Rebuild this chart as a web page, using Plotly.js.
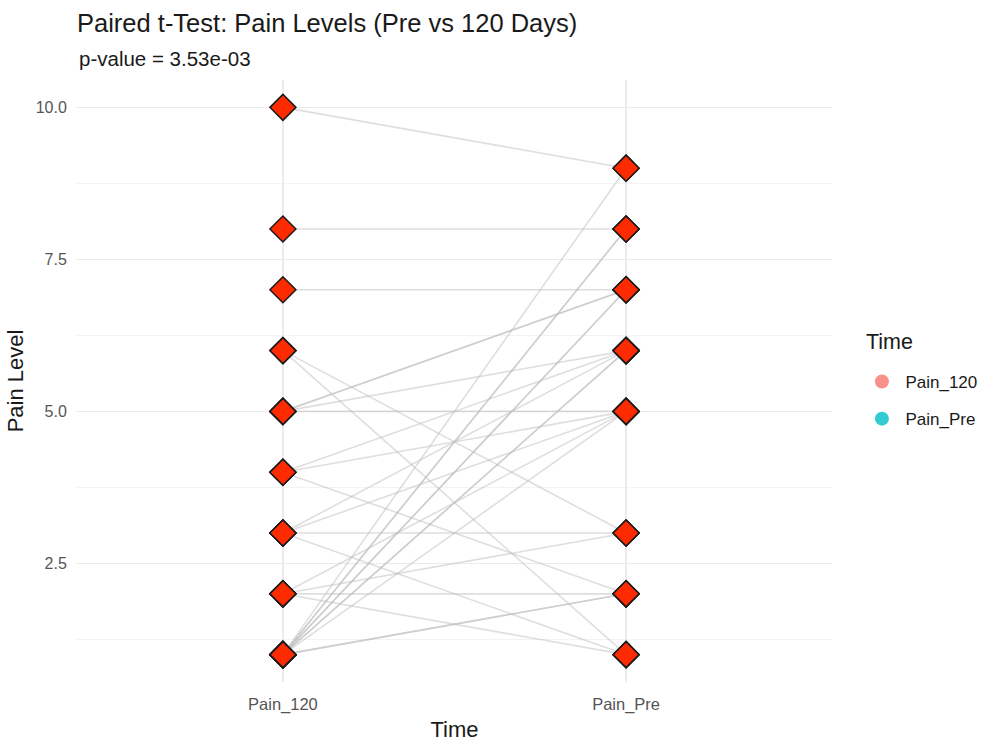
<!DOCTYPE html>
<html>
<head>
<meta charset="utf-8">
<script src="https://cdn.plot.ly/plotly-3.0.1.min.js"></script>
<style>
  html, body { margin: 0; padding: 0; background: #ffffff; }
  #chart { width: 1000px; height: 750px; }
</style>
</head>
<body>
<div id="chart"></div>
<script>
// Time points on the x axis
const timeLabels = ["Pain_120", "Pain_Pre"];

// Paired pain scores: one entry per patient (120 days, pre-treatment)
const pain120 = [10, 8, 7, 6, 6, 5, 5, 5, 5, 4, 4, 4, 3, 3, 3, 3, 2, 2, 2, 2, 1, 1, 1, 1, 1, 1, 1, 1, 1, 1];
const painPre = [ 9, 8, 7, 3, 1, 7, 7, 6, 5, 6, 5, 2, 6, 5, 3, 1, 5, 3, 2, 1, 2, 2, 5, 6, 6, 7, 7, 8, 8, 9];

const pValueText = "p-value = 3.53e-03";
const legendTitle = "Time";

// Legend colours for the two time points
const timeColors = ["rgba(248,118,109,0.8)", "rgba(0,191,196,0.8)"];

const FONT = "Liberation Sans, Arial, Helvetica, sans-serif";
const traces = [];

// One grey segment per patient, each its own trace so overlaps darken
pain120.forEach((v, i) => {
  traces.push({
    type: "scatter",
    mode: "lines",
    x: [timeLabels[0], timeLabels[1]],
    y: [v, painPre[i]],
    line: { color: "rgba(185,185,185,0.48)", width: 1.6 },
    hoverinfo: "skip",
    showlegend: false
  });
});

// Coloured points per time point (these carry the legend)
const series = [pain120, painPre];
timeLabels.forEach((lab, k) => {
  traces.push({
    type: "scatter",
    mode: "markers",
    name: lab,
    legendgroup: lab,
    x: series[k].map(() => lab),
    y: series[k],
    marker: { symbol: "circle", size: 14, color: timeColors[k] },
    showlegend: true
  });
});

// Diamond markers drawn on top
timeLabels.forEach((lab, k) => {
  traces.push({
    type: "scatter",
    mode: "markers",
    x: series[k].map(() => lab),
    y: series[k],
    marker: { symbol: "diamond", size: 20, color: "#ff2b00",
              line: { color: "#1a1a1a", width: 1.5 } },
    showlegend: false
  });
});

const layout = {
  width: 1000,
  height: 750,
  paper_bgcolor: "#ffffff",
  plot_bgcolor: "#ffffff",
  font: { family: FONT, color: "#1a1a1a" },
  margin: { l: 77, r: 168, t: 80, b: 68 },
  title: {
    text: "Paired t-Test: Pain Levels (Pre vs 120 Days)",
    font: { family: FONT, size: 25.5, color: "#1a1a1a" },
    xref: "paper", x: 0, xanchor: "left",
    yref: "container", y: 1 - 23 / 750, yanchor: "middle"
  },
  annotations: [
    {
      text: pValueText,
      xref: "paper", x: 0, xanchor: "left",
      yref: "paper", y: 1 + 22 / 602, yanchor: "middle",
      showarrow: false,
      font: { family: FONT, size: 20.5, color: "#1a1a1a" }
    },
    {
      text: legendTitle,
      xref: "paper", x: (864 - 77) / 755, xanchor: "left",
      yref: "paper", y: (682 - 342) / 602, yanchor: "middle",
      showarrow: false,
      font: { family: FONT, size: 21.5, color: "#1a1a1a" }
    }
  ],
  xaxis: {
    type: "category",
    categoryorder: "array",
    categoryarray: timeLabels,
    range: [-0.6, 1.6],
    showgrid: true,
    gridcolor: "#ebebeb",
    gridwidth: 1.5,
    zeroline: false,
    showline: false,
    ticks: "outside",
    ticklen: 7,
    tickcolor: "rgba(0,0,0,0)",
    tickfont: { family: FONT, size: 16.5, color: "#555555" },
    title: { text: "Time", font: { family: FONT, size: 22, color: "#1a1a1a" }, standoff: 8 }
  },
  yaxis: {
    range: [0.55, 10.45],
    tick0: 0,
    dtick: 2.5,
    tickformat: ".1f",
    showgrid: true,
    gridcolor: "#ebebeb",
    gridwidth: 1.5,
    minor: { dtick: 1.25, tick0: 0, showgrid: true, gridcolor: "#f3f3f3", gridwidth: 1.2 },
    zeroline: false,
    showline: false,
    ticks: "outside",
    ticklen: 6,
    tickcolor: "rgba(0,0,0,0)",
    tickfont: { family: FONT, size: 16, color: "#555555" },
    title: { text: "Pain Level", font: { family: FONT, size: 22, color: "#1a1a1a" }, standoff: 5 }
  },
  legend: {
    font: { family: FONT, size: 17, color: "#1a1a1a" },
    x: 1.035, xanchor: "left",
    y: (682 - 364) / 602, yanchor: "top",
    bgcolor: "rgba(0,0,0,0)",
    traceorder: "grouped",
    tracegroupgap: 12,
    itemwidth: 37
  },
  showlegend: true
};

Plotly.newPlot("chart", traces, layout, { displayModeBar: false, staticPlot: true });
</script>
</body>
</html>
